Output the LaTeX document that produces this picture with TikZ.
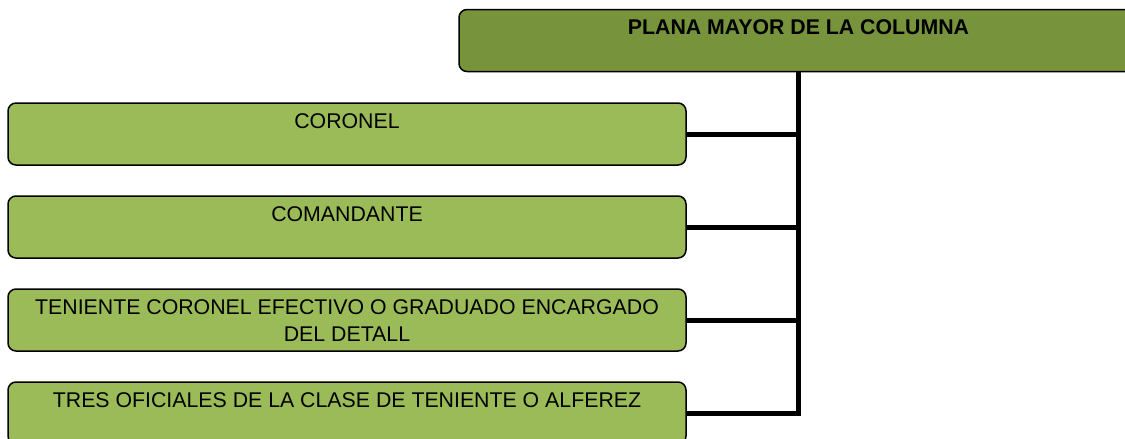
\documentclass[tikz,border=0pt]{standalone}
\usepackage{fontspec}
\setmainfont{Liberation Sans}
\usetikzlibrary{positioning}
\definecolor{olivo}{HTML}{77933C}
\definecolor{hoja}{HTML}{9BBB59}

\begin{document}
\begin{tikzpicture}[
	font=\fontsize{21.3}{27}\selectfont,
	box/.style={
		draw,
		line width=1.5pt,
		rounded corners=8pt,
		fill=hoja,
		align=center,
		minimum width=678pt,
		minimum height=62pt,
		outer sep=0pt,
		text height=15pt,
		text depth=27pt
	},
	jefe/.style={box, fill=olivo, minimum width=679pt, font=\fontsize{21.3}{27}\selectfont\bfseries},
	conn/.style={line width=5pt},
	node distance=31pt
	]
	
	\path[use as bounding box, clip] (0pt,0pt) rectangle (1125pt,-439pt);
	
	\node[jefe, anchor=north west] (plana) at (459pt,-9.5pt) {PLANA MAYOR DE LA COLUMNA};
	\node[box, anchor=north west] (coronel) at (8pt,-103pt) {CORONEL};
	\node[box, below=of coronel] (comandante) {COMANDANTE};
	\node[box, below=of comandante, text height=42pt, text depth=0pt] (teniente) {TENIENTE CORONEL EFECTIVO O GRADUADO ENCARGADO\\DEL DETALL};
	\node[box, below=of teniente] (oficiales) {TRES OFICIALES DE LA CLASE DE TENIENTE O ALFEREZ};
	
	\draw[conn] (plana.south) -- (plana.south |- oficiales.east) -- (oficiales.east);
	\draw[conn] (coronel.east) -- (coronel.east -| plana.south);
	\draw[conn] (comandante.east) -- (comandante.east -| plana.south);
	\draw[conn] (teniente.east) -- (teniente.east -| plana.south);
	
\end{tikzpicture}
\end{document}
